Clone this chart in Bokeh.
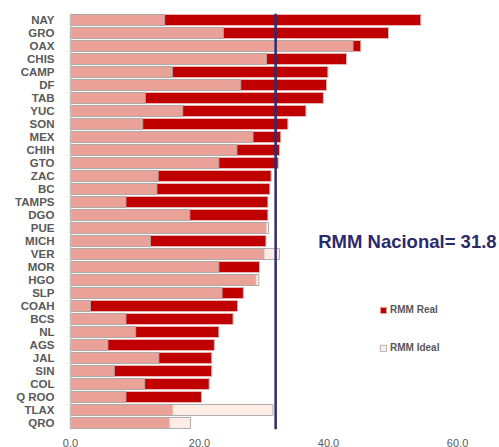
from bokeh.plotting import figure
from bokeh.models import (ColumnDataSource, FactorRange, Range1d, Span, Label,
                          Legend, LegendItem, FixedTicker, NumeralTickFormatter)
from bokeh.embed import file_html
from bokeh.resources import INLINE

states = ["NAY", "GRO", "OAX", "CHIS", "CAMP", "DF", "TAB", "YUC", "SON", "MEX",
          "CHIH", "GTO", "ZAC", "BC", "TAMPS", "DGO", "PUE", "MICH", "VER", "MOR",
          "HGO", "SLP", "COAH", "BCS", "NL", "AGS", "JAL", "SIN", "COL", "Q ROO",
          "TLAX", "QRO"]
rmm_real = [54.3, 49.3, 45.0, 42.8, 39.9, 39.7, 39.2, 36.5, 33.7, 32.6,
            32.4, 32.2, 31.1, 30.9, 30.6, 30.6, 30.4, 30.3, 30.1, 29.3,
            28.8, 26.8, 25.9, 25.2, 23.0, 22.3, 21.9, 21.9, 21.5, 20.3,
            15.9, 15.4]
rmm_ideal = [14.6, 23.7, 43.8, 30.4, 15.8, 26.4, 11.6, 17.4, 11.2, 28.3,
             25.8, 23.0, 13.6, 13.4, 8.6, 18.5, 30.7, 12.4, 32.4, 23.0,
             29.2, 23.5, 3.1, 8.6, 10.1, 5.8, 13.7, 6.8, 11.5, 8.6,
             31.4, 18.6]
rmm_nacional = 31.8
x_ticks = [0, 20, 40, 60]

src = ColumnDataSource(dict(state=states, real=rmm_real, ideal=rmm_ideal))

p = figure(width=499, height=447, output_backend="svg", toolbar_location=None,
           y_range=FactorRange(factors=list(reversed(states)), range_padding=0),
           x_range=Range1d(0, 66.5),
           min_border_left=70, min_border_right=0, min_border_top=13,
           min_border_bottom=18)
p.frame_width = 429
p.frame_height = 416
p.outline_line_color = None
p.xgrid.visible = False
p.ygrid.visible = False
p.background_fill_color = "white"

r_real = p.hbar(y="state", left=0, right="real", height=0.85, source=src,
                fill_color="#C00000", line_color="#E8B4B4", line_width=1)
r_ideal = p.hbar(y="state", left=0, right="ideal", height=0.85, source=src,
                 fill_color="#FCE5D8", fill_alpha=0.7,
                 line_color="#A6A6A6", line_alpha=0.9, line_width=1)

p.add_layout(Span(location=rmm_nacional, dimension="height",
                  line_color="#2E2B6E", line_width=2.5))

p.add_layout(Label(x=38.4, y=188, y_units="screen",
                   text="RMM Nacional= %.1f" % rmm_nacional,
                   text_font="Liberation Sans", text_font_style="bold",
                   text_font_size="18.5px", text_color="#2B2A6B",
                   text_baseline="middle"))

legend = Legend(items=[LegendItem(label="RMM Real", renderers=[r_real]),
                       LegendItem(label="RMM Ideal", renderers=[r_ideal])],
                location=(309, 76), orientation="vertical",
                glyph_width=8, glyph_height=8, label_height=10,
                spacing=27, padding=0, margin=0, label_standoff=3,
                border_line_color=None, background_fill_alpha=0,
                label_text_font="Liberation Sans", label_text_font_style="bold",
                label_text_font_size="10px", label_text_color="#595959")
p.add_layout(legend)

p.yaxis.axis_line_color = "#BFBFBF"
p.yaxis.axis_line_width = 1.5
p.yaxis.major_tick_line_color = None
p.yaxis.minor_tick_line_color = None
p.yaxis.major_label_standoff = 10
p.yaxis.major_label_text_font = "Liberation Sans"
p.yaxis.major_label_text_font_style = "bold"
p.yaxis.major_label_text_font_size = "11.5px"
p.yaxis.major_label_text_color = "#595959"

p.xaxis.ticker = FixedTicker(ticks=x_ticks)
p.xaxis.formatter = NumeralTickFormatter(format="0.0")
p.xaxis.axis_line_color = None
p.xaxis.major_tick_line_color = None
p.xaxis.minor_tick_line_color = None
p.xaxis.major_label_standoff = 3
p.xaxis.major_label_text_font = "Liberation Sans"
p.xaxis.major_label_text_font_size = "11px"
p.xaxis.major_label_text_color = "#595959"

open("out.html", "w").write(file_html(p, INLINE))
